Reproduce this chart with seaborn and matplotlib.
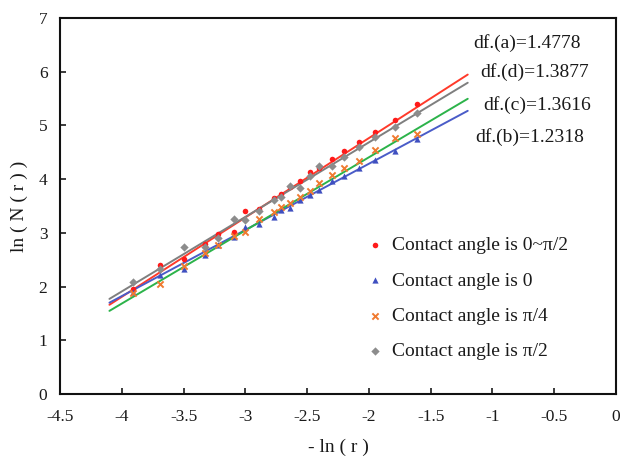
import matplotlib
matplotlib.use("Agg")
import matplotlib.pyplot as plt
import numpy as np
import pandas as pd
import seaborn as sns

# -ln(r) positions of the box sizes
x_vals = [-3.91, -3.69, -3.50, -3.33, -3.22, -3.09, -3.00, -2.89, -2.77, -2.71,
          -2.64, -2.56, -2.48, -2.40, -2.30, -2.20, -2.08, -1.95, -1.79, -1.61]

# ln(N(r)) for each contact-angle case
y_all = [1.95, 2.40, 2.52, 2.80, 2.97, 3.02, 3.40, 3.45, 3.65, 3.72,
         3.85, 3.97, 4.14, 4.20, 4.38, 4.52, 4.70, 4.87, 5.11, 5.40]
y_zero = [1.90, 2.22, 2.33, 2.58, 2.77, 2.92, 3.10, 3.17, 3.30, 3.42,
          3.46, 3.61, 3.71, 3.80, 3.97, 4.05, 4.20, 4.36, 4.52, 4.75]
y_quarter = [1.88, 2.05, 2.38, 2.62, 2.78, 2.95, 3.02, 3.26, 3.38, 3.48,
             3.55, 3.66, 3.78, 3.92, 4.08, 4.20, 4.34, 4.54, 4.76, 4.84]
y_half = [2.09, 2.32, 2.73, 2.74, 2.90, 3.26, 3.24, 3.41, 3.61, 3.66,
          3.87, 3.83, 4.05, 4.25, 4.25, 4.42, 4.60, 4.78, 4.98, 5.24]

series_labels = ["Contact angle is 0~π/2", "Contact angle is 0",
                 "Contact angle is π/4", "Contact angle is π/2"]

# fitted fractal dimensions (slopes) and intercepts
df_names = ["df.(a)=1.4778", "df.(b)=1.2318", "df.(c)=1.3616", "df.(d)=1.3877"]
slopes = [1.4778, 1.2318, 1.3616, 1.3877]
intercepts = [7.72, 6.75, 7.13, 7.46]
fit_range = [-4.1, -1.2]

marker_colors = ["#ff1a1a", "#3f4fc0", "#f07a30", "#8c8c8c"]
line_colors = ["#ff3a2a", "#4a5cc8", "#2cb34a", "#7f7f7f"]
markers = ["o", "^", "x", "D"]
marker_sizes = [16, 20, 20, 18]

sns.set_theme(style="ticks")
plt.rcParams["font.family"] = ["Liberation Serif", "DejaVu Serif"]
plt.rcParams["text.color"] = "#1a1a1a"
plt.rcParams["axes.labelcolor"] = "#1a1a1a"
plt.rcParams["xtick.color"] = "#1a1a1a"
plt.rcParams["ytick.color"] = "#1a1a1a"

fig = plt.figure(figsize=(6.22, 4.58), dpi=100)
ax = fig.add_axes([60 / 622, 64 / 458, 556 / 622, 376 / 458])

ys = [y_all, y_zero, y_quarter, y_half]

# regression lines from stated slopes
for s, b, c in zip(slopes, intercepts, line_colors):
    fx = np.array(fit_range)
    line_df = pd.DataFrame({"x": fx, "y": s * fx + b})
    sns.lineplot(data=line_df, x="x", y="y", ax=ax, color=c, lw=1.4,
                 legend=False, zorder=2)

for y, lab, c, m, ms in zip(ys, series_labels, marker_colors, markers, marker_sizes):
    pts = pd.DataFrame({"x": x_vals, "y": y})
    kw = dict(linewidth=1.4) if m == "x" else dict(linewidth=0)
    sns.scatterplot(data=pts, x="x", y="y", ax=ax, color=c, marker=m, s=ms,
                    label=lab, zorder=3, **kw)

h, l = ax.get_legend_handles_labels()
leg = ax.legend(h, l, loc="upper left", bbox_to_anchor=(0.549, 0.418),
                frameon=False, fontsize=14, handlelength=1.0,
                handletextpad=0.4, labelspacing=0.9, borderpad=0,
                borderaxespad=0, markerscale=1.0)

# df labels beside the fit lines
df_pos = [(-1.156, 6.54), (-1.140, 4.79), (-1.077, 5.38), (-1.099, 6.00)]
for (tx, ty), t in zip(df_pos, df_names):
    ax.text(tx, ty, t, fontsize=14, ha="left", va="center")

ax.set_xlim(-4.5, 0)
ax.set_ylim(0, 7)
ax.set_xticks(np.arange(-4.5, 0.01, 0.5))
ax.set_xticklabels(["-4.5", "-4", "-3.5", "-3", "-2.5", "-2", "-1.5", "-1", "-0.5", "0"])
ax.set_yticks(range(0, 8))
ax.tick_params(axis="x", direction="in", length=4, width=1.2, labelsize=12.5, pad=11)
ax.tick_params(axis="y", direction="in", length=4, width=1.2, labelsize=12.5, pad=9)
for sp in ax.spines.values():
    sp.set_visible(True)
    sp.set_linewidth(1.5)
    sp.set_color("#111111")

ax.set_xlabel("- ln ( r )", fontsize=14, labelpad=10)
ax.set_ylabel("ln ( N ( r ) )", fontsize=14, labelpad=8)

fig.savefig("out.png", dpi=100)
